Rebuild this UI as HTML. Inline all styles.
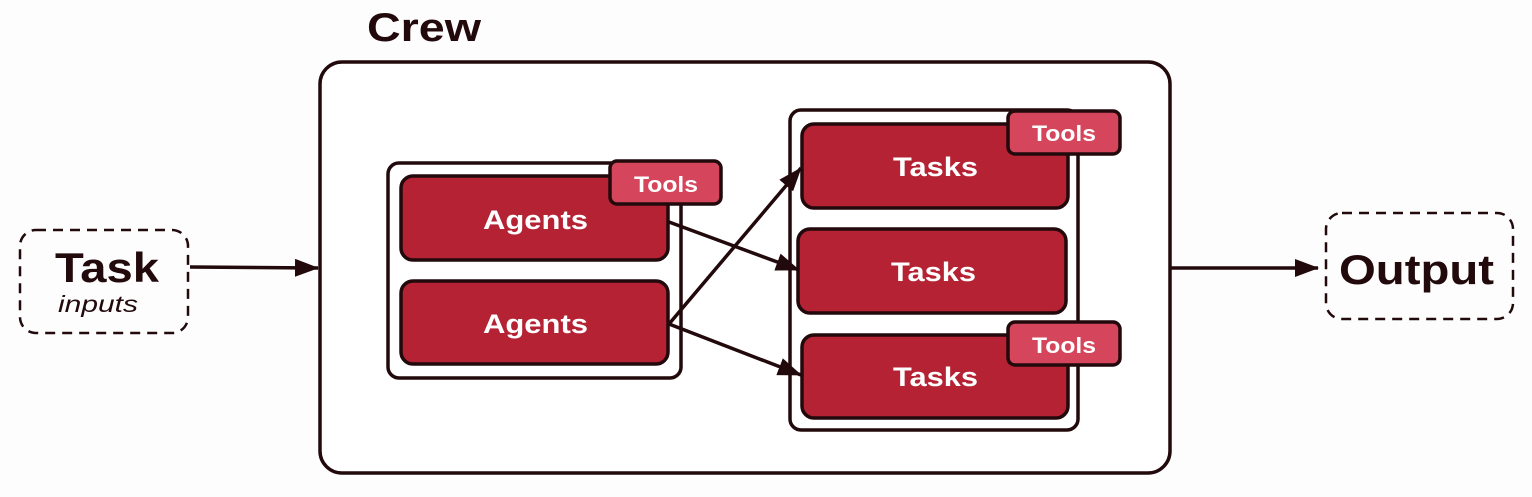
<!DOCTYPE html>
<html><head><meta charset="utf-8"><style>
html,body{margin:0;padding:0;background:#fdfdfd;}
svg{display:block;}
text{font-family:"Liberation Sans",sans-serif;}
</style></head><body>
<svg width="1532" height="497" viewBox="0 0 1532 497" xmlns="http://www.w3.org/2000/svg">
<defs>
<marker id="ah2" markerWidth="24" markerHeight="18" refX="23" refY="9" orient="auto" markerUnits="userSpaceOnUse" viewBox="0 0 24 18">
<path d="M0,0 L24,9 L0,18 z" fill="#22090c"/>
</marker>
</defs>
<rect width="1532" height="497" fill="#fdfdfd"/>
<text x="367" y="41" font-size="40" font-weight="bold" fill="#22090c" textLength="114" lengthAdjust="spacingAndGlyphs">Crew</text>
<rect x="320" y="62" width="850" height="411" rx="22" fill="#fff" stroke="#22090c" stroke-width="3.5"/>

<rect x="20" y="230" width="168" height="103" rx="16" fill="none" stroke="#22090c" stroke-width="2.5" stroke-dasharray="10,7"/>
<text x="55" y="282" font-size="42" font-weight="bold" fill="#22090c" textLength="104" lengthAdjust="spacingAndGlyphs">Task</text>
<text x="58" y="312" font-size="23" font-style="italic" fill="#22090c" textLength="80" lengthAdjust="spacingAndGlyphs">inputs</text>
<line x1="190" y1="267" x2="318" y2="268" stroke="#22090c" stroke-width="3.5" marker-end="url(#ah2)"/>

<rect x="1326" y="213" width="187" height="106" rx="16" fill="none" stroke="#22090c" stroke-width="2.5" stroke-dasharray="10,7"/>
<text x="1339" y="284" font-size="42" font-weight="bold" fill="#22090c" textLength="155" lengthAdjust="spacingAndGlyphs">Output</text>
<line x1="1171" y1="268" x2="1318" y2="268" stroke="#22090c" stroke-width="3.5" marker-end="url(#ah2)"/>

<rect x="388" y="163" width="293" height="215" rx="11" fill="#fff" stroke="#22090c" stroke-width="3.5"/>
<rect x="401" y="176" width="267" height="84" rx="12" fill="#b52234" stroke="#22090c" stroke-width="3.5"/>
<rect x="401" y="281" width="267" height="83" rx="12" fill="#b52234" stroke="#22090c" stroke-width="3.5"/>
<text x="483" y="229" font-size="27" font-weight="bold" fill="#fff" textLength="105" lengthAdjust="spacingAndGlyphs">Agents</text>
<text x="483" y="333" font-size="27" font-weight="bold" fill="#fff" textLength="105" lengthAdjust="spacingAndGlyphs">Agents</text>
<rect x="610" y="161" width="111" height="43" rx="7" fill="#d5465c" stroke="#22090c" stroke-width="3.5"/>
<text x="634" y="192" font-size="22" font-weight="bold" fill="#fff" textLength="64" lengthAdjust="spacingAndGlyphs">Tools</text>

<rect x="790" y="110" width="288" height="320" rx="11" fill="#fff" stroke="#22090c" stroke-width="3.5"/>
<rect x="802" y="124" width="266" height="84" rx="12" fill="#b52234" stroke="#22090c" stroke-width="3.5"/>
<rect x="798" y="229" width="268" height="84" rx="12" fill="#b52234" stroke="#22090c" stroke-width="3.5"/>
<rect x="802" y="335" width="266" height="83" rx="12" fill="#b52234" stroke="#22090c" stroke-width="3.5"/>
<text x="893" y="176" font-size="27" font-weight="bold" fill="#fff" textLength="85" lengthAdjust="spacingAndGlyphs">Tasks</text>
<text x="891" y="281" font-size="27" font-weight="bold" fill="#fff" textLength="85" lengthAdjust="spacingAndGlyphs">Tasks</text>
<text x="893" y="386" font-size="27" font-weight="bold" fill="#fff" textLength="85" lengthAdjust="spacingAndGlyphs">Tasks</text>
<rect x="1008" y="111" width="112" height="43" rx="7" fill="#d5465c" stroke="#22090c" stroke-width="3.5"/>
<text x="1032" y="141" font-size="22" font-weight="bold" fill="#fff" textLength="64" lengthAdjust="spacingAndGlyphs">Tools</text>
<rect x="1008" y="322" width="112" height="43" rx="7" fill="#d5465c" stroke="#22090c" stroke-width="3.5"/>
<text x="1032" y="353" font-size="22" font-weight="bold" fill="#fff" textLength="64" lengthAdjust="spacingAndGlyphs">Tools</text>

<line x1="669" y1="222" x2="799" y2="270" stroke="#22090c" stroke-width="3.5" marker-end="url(#ah2)"/>
<line x1="669" y1="324" x2="801" y2="168" stroke="#22090c" stroke-width="3.5" marker-end="url(#ah2)"/>
<line x1="669" y1="324" x2="801" y2="375" stroke="#22090c" stroke-width="3.5" marker-end="url(#ah2)"/>
</svg>
</body></html>
